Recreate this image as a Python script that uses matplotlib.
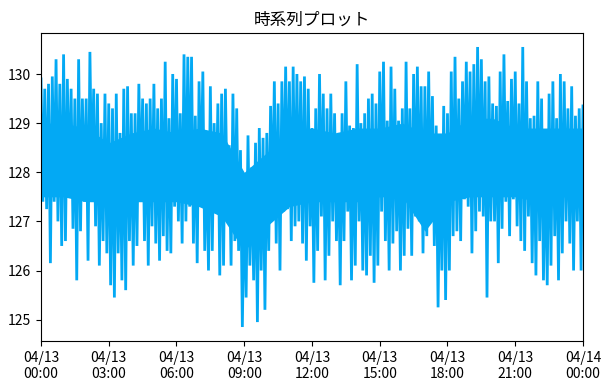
"""Time series plot (matplotlib PNG)."""

import matplotlib
matplotlib.use("Agg")
import matplotlib.pyplot as plt
import matplotlib.dates as mdates
import pandas as pd

plt.rcParams['font.family'] = ['Noto Sans CJK JP', 'DejaVu Sans']

start = "2024-04-13 00:00"

# Upper swing read every 10 min (00:00 .. 24:00)
highs = [
    129.9, 129.7, 129.8, 129.95, 130.3, 129.8, 130.4, 129.9, 129.7, 129.5,
    130.3, 129.5, 129.5, 130.45, 129.7, 129.6, 129.0, 129.6, 129.4, 129.3,
    129.6, 128.8, 129.7, 129.75, 129.2, 129.2, 129.8, 129.5, 129.4, 129.5,
    129.8, 129.3, 129.5, 130.25, 129.1, 130.0, 129.9,
    129.2, 130.4, 130.35, 130.35, 129.15, 129.85, 130.05, 128.6, 129.75, 129.0,
    129.4, 129.6, 129.7, 128.55, 129.6, 129.3, 128.45, 127.7, 128.75, 128.1,
    128.6, 128.9, 128.7, 128.8, 129.35, 129.85, 129.4, 129.85, 130.15, 129.85,
    130.15, 130.0, 129.85, 129.95, 129.7, 128.9,
    129.3, 130.0, 129.6, 129.3, 129.6, 129.2, 128.8, 129.2, 129.85, 128.95,
    128.9, 130.2, 129.0, 129.2, 129.5, 129.6, 129.4, 130.05, 130.25, 129.05,
    130.15, 129.7, 129.05, 129.3, 130.25, 129.3, 130.0, 130.15, 129.75, 129.75,
    130.05, 129.55, 128.95, 128.6, 129.35, 129.2,
    130.05, 130.35, 129.5, 129.85, 130.25, 130.05, 130.2, 130.55, 130.3, 129.85,
    129.95, 129.4, 129.35, 130.05, 130.4, 129.45, 129.9, 130.05, 129.4, 130.55,
    129.85, 129.1, 129.15, 129.85, 129.5, 128.55, 129.6, 129.85, 129.1, 130.0,
    129.85, 129.3, 129.75, 129.15, 129.3, 129.35,
]

# Lower swing read every 10 min, 5 min after each high (00:05 .. 23:55)
lows = [
    127.4, 127.25, 126.15, 127.4, 127.0, 126.5, 126.6, 127.5, 126.85, 125.8,
    126.8, 127.4, 126.2, 127.6, 126.9, 126.1, 126.6, 126.35, 125.7, 125.45,
    126.35, 125.8, 125.6, 126.6, 126.1, 126.5, 127.5, 126.6, 126.1, 126.9,
    126.55, 126.2, 126.7, 126.4, 126.35, 127.3, 127.0,
    126.55, 127.0, 127.3, 126.55, 126.15, 127.6, 126.4, 126.0, 126.4, 127.2,
    125.9, 126.1, 127.2, 126.1, 126.6, 126.4, 124.85, 125.45, 126.1, 125.8,
    124.95, 126.0, 125.2, 126.4, 127.2, 126.55, 126.0, 127.2, 127.25, 126.6,
    126.9, 127.0, 126.55, 126.2, 126.9, 125.75,
    126.4, 127.1, 125.8, 126.3, 127.0, 126.6, 125.7, 126.6, 127.2, 125.8,
    126.1, 127.0, 126.0, 125.9, 126.3, 125.75, 126.1, 127.2, 126.6, 126.0,
    126.55, 126.8, 126.0, 126.3, 126.85, 126.3, 127.1, 127.0, 126.35, 126.7,
    127.0, 126.5, 125.25, 126.0, 125.4, 126.0,
    126.7, 126.8, 126.6, 127.45, 127.3, 126.35, 126.8, 127.2, 127.1, 125.45,
    127.0, 127.0, 126.15, 126.85, 127.4, 126.7, 127.45, 126.9, 126.6, 126.4,
    127.1, 126.15, 125.9, 126.6, 125.8, 125.7, 126.1, 126.7, 125.8, 126.35,
    127.0, 126.55, 126.0, 127.0, 126.0,
]

# Hourly limits of the band the dense trace covers completely (00:00 .. 24:00)
core_hi = [
    129.0, 129.0, 128.9, 128.6, 128.8, 128.9, 128.8, 128.9, 128.8, 128.0,
    128.4, 128.8, 128.9, 128.8, 128.9, 128.9, 129.0, 128.8, 128.8, 129.1,
    129.1, 128.9, 128.9, 128.9, 128.9,
]
core_lo = [
    127.5, 127.5, 127.4, 127.4, 127.4, 127.4, 127.4, 127.3, 127.1, 126.4,
    126.9, 127.3, 127.4, 127.4, 127.4, 127.5, 127.5, 126.8, 127.4, 127.5,
    127.5, 127.5, 127.4, 127.5, 127.5,
]

# interleave high / low swings on a 5-minute grid
values = []
for i, h in enumerate(highs):
    values.append(h)
    if i < len(lows):
        values.append(lows[i])

times = pd.date_range(start, periods=len(values), freq="5min")
series = pd.Series(values, index=times)
core_times = pd.date_range(start, periods=len(core_hi), freq="1h")

color = '#03A9F4'

fig = plt.figure(figsize=(6.1, 3.89), dpi=100)
ax = fig.add_axes([0.0672, 0.1234, 0.8885, 0.7918])

ax.fill_between(core_times, core_lo, core_hi, color=color, linewidth=0)
ax.plot(series.index, series.values, color=color, linewidth=2.0,
        solid_joinstyle='miter')

ax.set_xlim(series.index[0], series.index[-1])
ax.xaxis.set_major_locator(mdates.HourLocator(interval=3))
ax.xaxis.set_major_formatter(mdates.DateFormatter('%m/%d\n%H:%M'))
ax.set_title('時系列プロット', fontsize=12)
ax.tick_params(labelsize=10)

fig.savefig('out.png', dpi=100)
plt.close(fig)
